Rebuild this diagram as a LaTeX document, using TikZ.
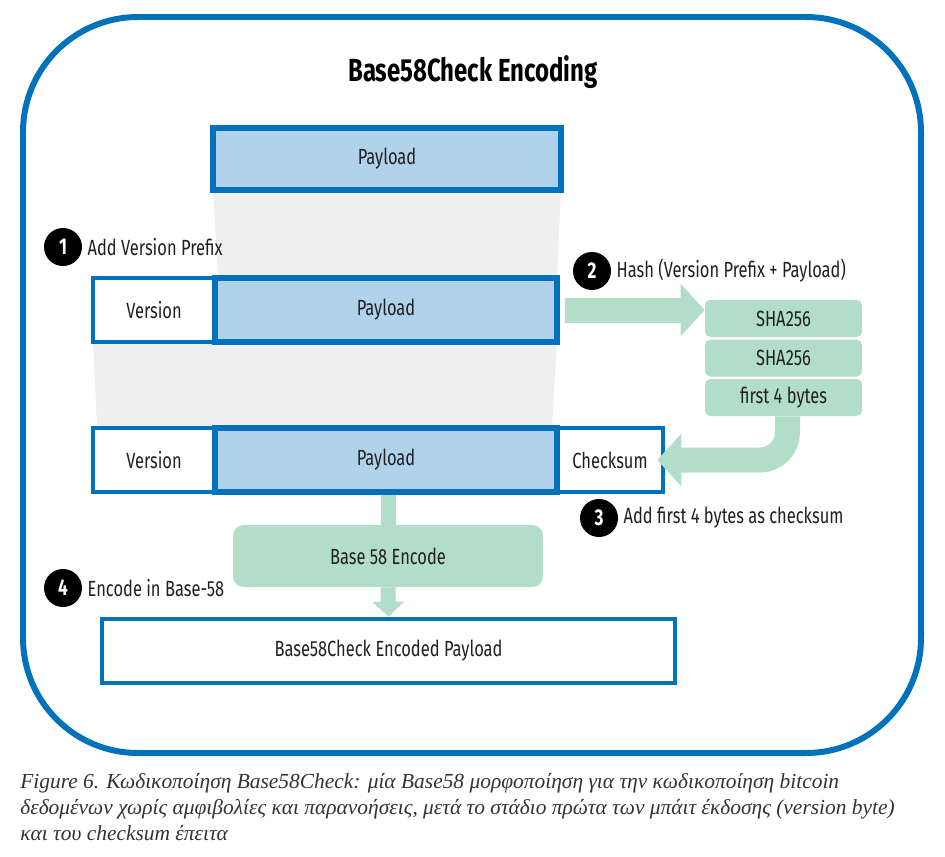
\documentclass[tikz,border=0pt]{standalone}
\usepackage{fontspec}
\usepackage{tikz}
\usetikzlibrary{arrows.meta, positioning, calc}
\newfontfamily\diagfont{Fira Sans}[FakeStretch=0.75]
\newfontfamily\capfont{Liberation Serif}
\newcommand{\boxfont}{\diagfont\fontsize{12.5pt}{15pt}\selectfont}
\definecolor{myblue}{RGB}{0,114,188}
\definecolor{mylightblue}{RGB}{176,210,234}
\definecolor{mygreen}{RGB}{178,222,200}
\definecolor{mygrey}{RGB}{239,239,239}
\definecolor{mytext}{RGB}{35,31,32}
\definecolor{mycaption}{RGB}{51,51,51}
\tikzset{
  paybox/.style={rectangle, draw=myblue, fill=mylightblue, line width=3.3pt,
    minimum height=1.24cm, font=\boxfont, text=mytext},
  whitebox/.style={rectangle, draw=myblue, fill=white, line width=2.6pt,
    minimum height=1.28cm, font=\boxfont, text=mytext},
  hashbox/.style={rectangle, fill=mygreen, rounded corners=3pt,
    minimum width=3.14cm, minimum height=0.74cm, font=\boxfont, text=mytext},
  encbox/.style={rectangle, fill=mygreen, rounded corners=6pt,
    minimum width=6.2cm, minimum height=1.24cm, font=\boxfont, text=mytext},
  stepnum/.style={circle, fill=black, text=white, inner sep=0pt,
    minimum size=0.76cm, font=\diagfont\fontsize{13pt}{15pt}\selectfont\bfseries},
  steplabel/.style={inner sep=0pt, font=\boxfont, text=mytext},
  greenarrow/.style={draw=mygreen, line width=0.5cm,
    -{Triangle[length=0.48cm 0, width=1.02cm 0]}},
  greenline/.style={draw=mygreen, line width=0.3cm},
  captext/.style={anchor=base west, inner sep=0pt, text=mycaption,
    font=\capfont\itshape\fontsize{12.2pt}{14pt}\selectfont}
}
\begin{document}
\begin{tikzpicture}[x=0.02cm, y=-0.02cm]
  \useasboundingbox (0,0) rectangle (945,856);

  % frame
  \draw[myblue, line width=3.4pt, rounded corners=2.3cm] (23,17) rectangle (921,753);
  \node[font=\diagfont\fontsize{18.2pt}{21pt}\selectfont\bfseries] (title) at (473,72) {Base58Check Encoding};

  % grey fans
  \fill[mygrey] (213,190) -- (561,190) -- (557,278) -- (218,278) -- cycle;
  \fill[mygrey] (93,342) -- (557,342) -- (552,428) -- (97,428) -- cycle;

  % Payload
  \node[paybox, minimum width=6.96cm] (pay1) at (387,159) {Payload};

  % Version + Payload
  \node[whitebox, minimum width=2.44cm] (ver2) at (154,310) {Version};
  \node[paybox, minimum width=6.84cm, minimum height=1.28cm] (pay2) at (386,310) {Payload};

  % Version + Payload + Checksum
  \node[whitebox, minimum width=2.44cm] (ver3) at (154,460) {Version};
  \node[whitebox, minimum width=2.12cm] (chk) at (610,460) {Checksum};
  \node[paybox, minimum width=6.84cm, minimum height=1.28cm] (pay3) at (386,460) {Payload};

  % Hash steps
  \node[hashbox] (sha1) at (783.5,318.5) {SHA256};
  \node[hashbox] (sha2) at (783.5,358) {SHA256};
  \node[hashbox] (bytes) at (783.5,397.5) {first 4 bytes};

  % Encode
  \node[encbox] (enc) at (388,556) {Base 58 Encode};
  \node[whitebox, minimum width=11.46cm] (out) at (388.5,651) {Base58Check Encoded Payload};

  % Arrows
  \draw[greenarrow, shorten <=0.1cm] (pay2.east) -- (pay2.east -| sha1.west);
  \draw[greenarrow, rounded corners=0.55cm, shorten >=-0.16cm] ([xshift=0.08cm]bytes.south) |- (chk.east);
  \draw[greenline] (enc.north |- pay3.south) -- (enc.north);
  \draw[greenline, -{Triangle[length=0.3cm 0, width=0.62cm 0]}] (enc.south) -- (out.north);

  % Steps
  \node[stepnum] (n1) at (63,247) {1};
  \node[steplabel, right=0.1cm of n1] (l1) {Add Version Prefix};
  \node[stepnum] (n2) at (592,271) {2};
  \node[steplabel, right=0.1cm of n2] (l2) {Hash (Version Prefix + Payload)};
  \node[stepnum] (n3) at (599,518) {3};
  \node[steplabel, right=0.1cm of n3] (l3) {Add first 4 bytes as checksum};
  \node[stepnum] (n4) at (63,588) {4};
  \node[steplabel, right=0.1cm of n4] (l4) {Encode in Base-58};

  % Caption
  \node[captext] (cap1) at (20,788) {Figure 6. Κωδικοποίηση Base58Check: μία Base58 μορφοποίηση για την κωδικοποίηση bitcoin};
  \node[captext] (cap2) at (20,814) {δεδομένων χωρίς αμφιβολίες και παρανοήσεις, μετά το στάδιο πρώτα των μπάιτ έκδοσης (version byte)};
  \node[captext] (cap3) at (20,840) {και του checksum έπειτα};
\end{tikzpicture}
\end{document}
